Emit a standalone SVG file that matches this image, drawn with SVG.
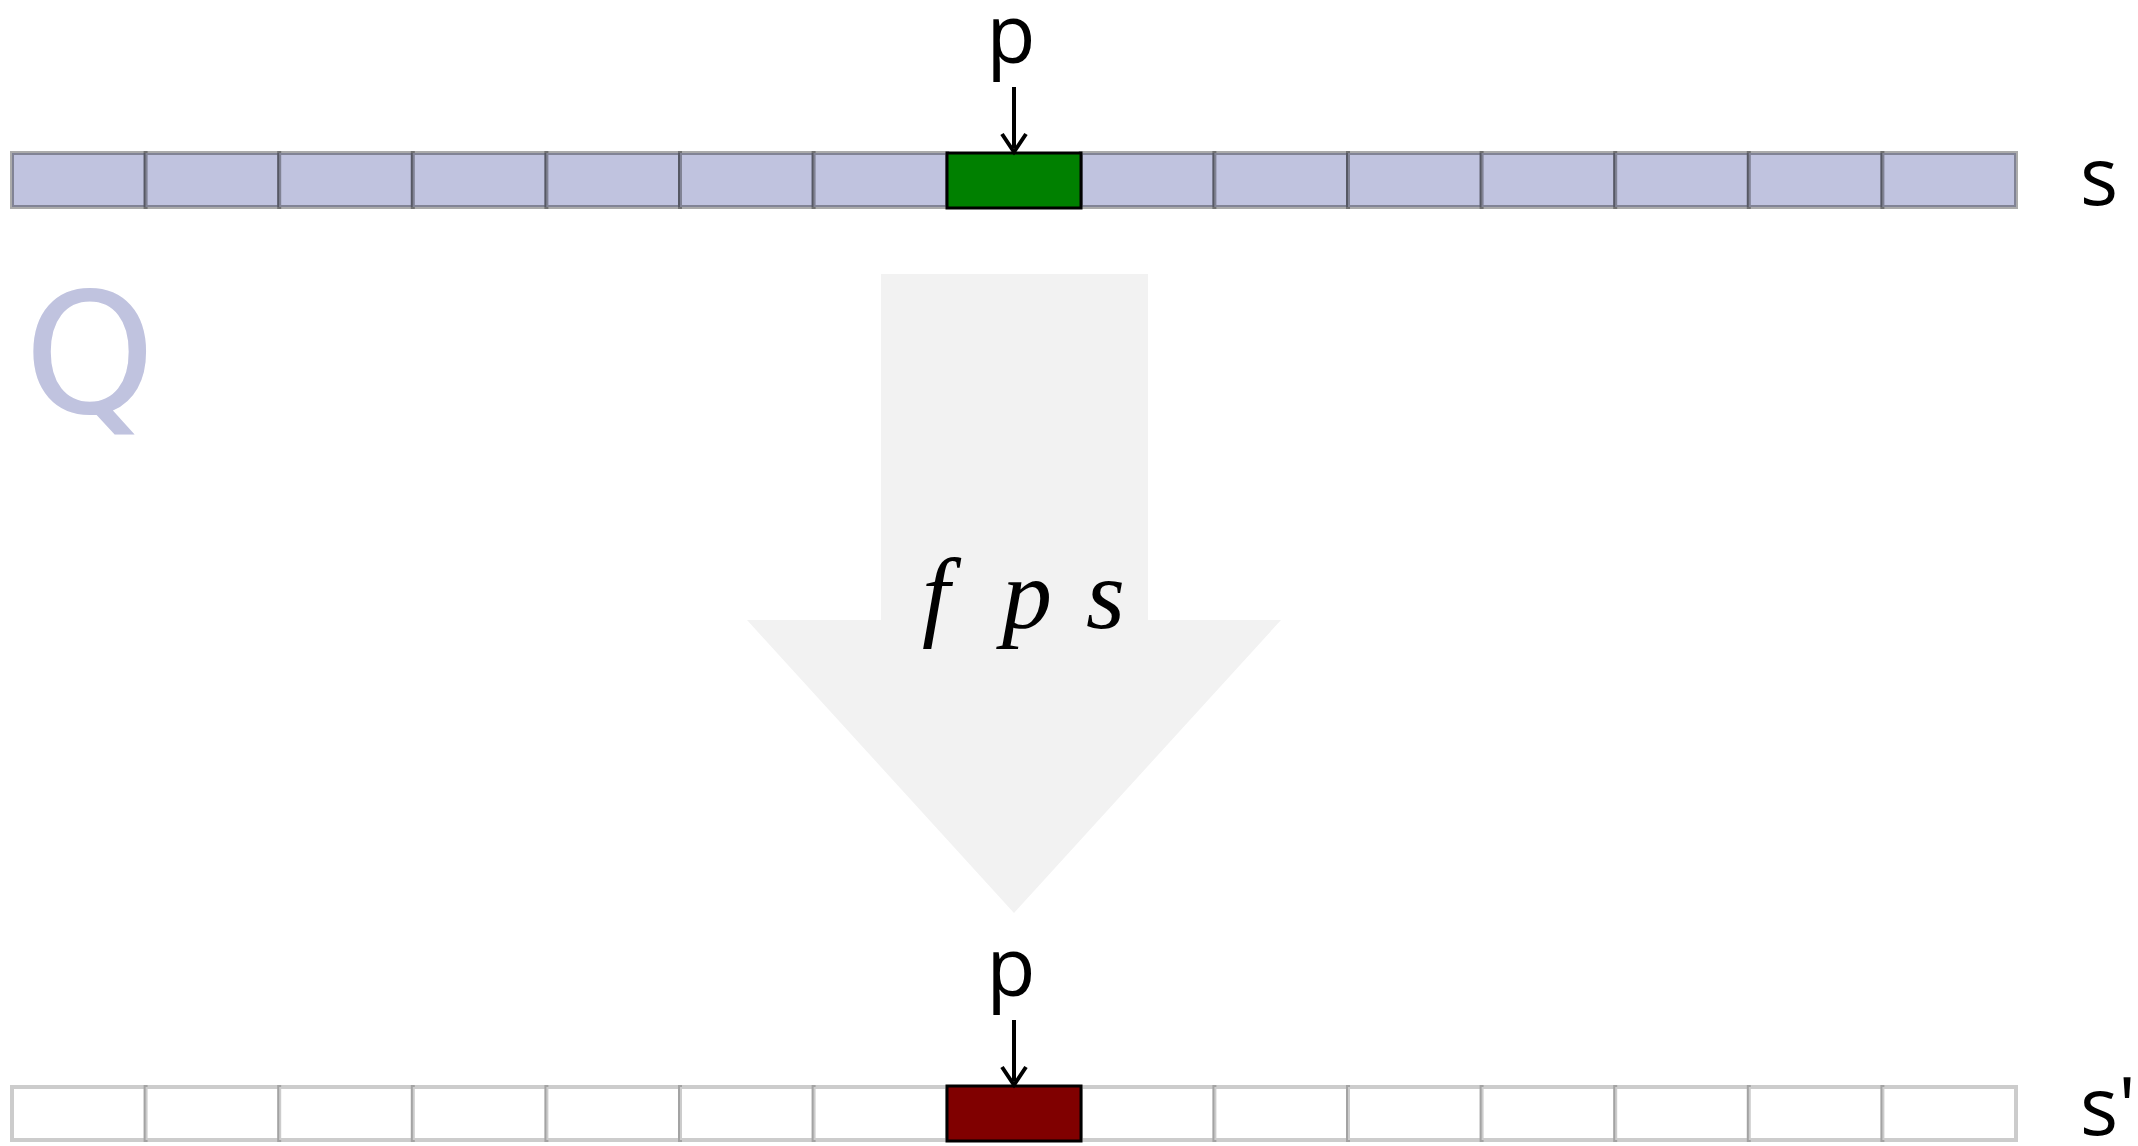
<svg xmlns="http://www.w3.org/2000/svg" width="2138" height="1146" viewBox="0 0 2138 1146">
<style>
.lbl{font-family:"Open Sans","Noto Sans",sans-serif;font-size:80px;fill:#000}
.math{font-family:"Liberation Serif","DejaVu Serif",serif;font-style:italic;font-size:100px;fill:#000}
.cellT{fill:#c0c3df;stroke:#000;stroke-opacity:0.33;stroke-width:4}
.cellB{fill:#fff;stroke:#000;stroke-opacity:0.2;stroke-width:4}
.ptr{stroke:#000;stroke-width:4;fill:none}
</style>
<rect width="2138" height="1146" fill="#fff"/>
<g id="arrow-big">
<polygon points="881,274 1148,274 1148,620 1281,620 1014,913 747,620 881,620" fill="#f2f2f2"/>
<text class="math" x="922" y="628">f</text>
<text class="math" x="1002" y="628">p</text>
<text class="math" x="1086" y="628">s</text>
</g>
<g id="Q"><text x="24" y="413" style="font-family:'DejaVu Sans',sans-serif;font-size:167px;fill:#c0c3df">Q</text></g>
<g id="bar-s">
<rect class="cellT" x="12" y="153" width="133.6" height="54"/>
<rect class="cellT" x="145.6" y="153" width="133.6" height="54"/>
<rect class="cellT" x="279.2" y="153" width="133.6" height="54"/>
<rect class="cellT" x="412.8" y="153" width="133.6" height="54"/>
<rect class="cellT" x="546.4" y="153" width="133.6" height="54"/>
<rect class="cellT" x="680" y="153" width="133.6" height="54"/>
<rect class="cellT" x="813.6" y="153" width="133.6" height="54"/>
<rect class="cellT" x="1080.8" y="153" width="133.6" height="54"/>
<rect class="cellT" x="1214.4" y="153" width="133.6" height="54"/>
<rect class="cellT" x="1348" y="153" width="133.6" height="54"/>
<rect class="cellT" x="1481.6" y="153" width="133.6" height="54"/>
<rect class="cellT" x="1615.2" y="153" width="133.6" height="54"/>
<rect class="cellT" x="1748.8" y="153" width="133.6" height="54"/>
<rect class="cellT" x="1882.4" y="153" width="133.6" height="54"/>
<rect x="947" y="153" width="134" height="55" fill="#008000" stroke="#000" stroke-width="3"/>
<text class="lbl" x="2080" y="205">s</text>
</g>
<g id="bar-s-prime">
<rect class="cellB" x="12" y="1087" width="133.6" height="53"/>
<rect class="cellB" x="145.6" y="1087" width="133.6" height="53"/>
<rect class="cellB" x="279.2" y="1087" width="133.6" height="53"/>
<rect class="cellB" x="412.8" y="1087" width="133.6" height="53"/>
<rect class="cellB" x="546.4" y="1087" width="133.6" height="53"/>
<rect class="cellB" x="680" y="1087" width="133.6" height="53"/>
<rect class="cellB" x="813.6" y="1087" width="133.6" height="53"/>
<rect class="cellB" x="1080.8" y="1087" width="133.6" height="53"/>
<rect class="cellB" x="1214.4" y="1087" width="133.6" height="53"/>
<rect class="cellB" x="1348" y="1087" width="133.6" height="53"/>
<rect class="cellB" x="1481.6" y="1087" width="133.6" height="53"/>
<rect class="cellB" x="1615.2" y="1087" width="133.6" height="53"/>
<rect class="cellB" x="1748.8" y="1087" width="133.6" height="53"/>
<rect class="cellB" x="1882.4" y="1087" width="133.6" height="53"/>
<rect x="947" y="1086" width="134" height="55" fill="#800000" stroke="#000" stroke-width="3"/>
<text class="lbl" x="2080" y="1135">s'</text>
</g>
<g id="label-p-top"><text class="lbl" x="1011" y="63" text-anchor="middle">p</text></g>
<g id="label-p-bottom"><text class="lbl" x="1011" y="996" text-anchor="middle">p</text></g>
<g id="connectors">
<line class="ptr" x1="1014" y1="87" x2="1014" y2="148"/>
<path d="M1002,134 L1014,152 L1026,134" class="ptr"/>
<line class="ptr" x1="1014" y1="1020" x2="1014" y2="1081"/>
<path d="M1002,1067 L1014,1085 L1026,1067" class="ptr"/>
</g>
</svg>
